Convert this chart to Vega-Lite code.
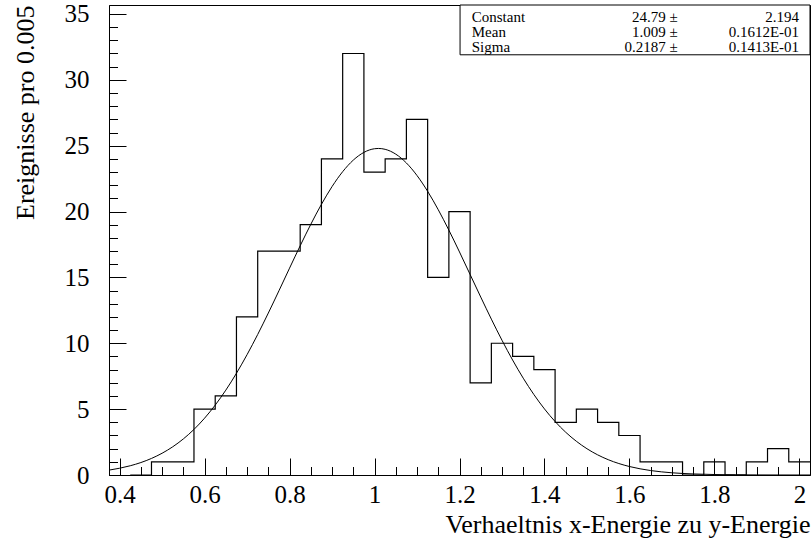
{
  "$schema": "https://vega.github.io/schema/vega-lite/v6.json",
  "width": 701,
  "height": 470,
  "autosize": {"type": "none"},
  "padding": {"left": 109, "top": 5, "right": 2, "bottom": 72},
  "background": "white",
  "config": {
    "view": {"stroke": "black", "strokeWidth": 1},
    "font": "Liberation Serif",
    "axis": {
      "domainColor": "black",
      "tickColor": "black",
      "labelColor": "black",
      "titleColor": "black",
      "labelFont": "Liberation Serif",
      "titleFont": "Liberation Serif",
      "titleFontWeight": "normal",
      "grid": false
    }
  },
  "datasets": {
    "hist": [
      {"bin_start": 0.375, "bin_end": 0.425, "count": 0},
      {"bin_start": 0.425, "bin_end": 0.475, "count": 0},
      {"bin_start": 0.475, "bin_end": 0.525, "count": 1},
      {"bin_start": 0.525, "bin_end": 0.575, "count": 1},
      {"bin_start": 0.575, "bin_end": 0.625, "count": 5},
      {"bin_start": 0.625, "bin_end": 0.675, "count": 6},
      {"bin_start": 0.675, "bin_end": 0.725, "count": 12},
      {"bin_start": 0.725, "bin_end": 0.775, "count": 17},
      {"bin_start": 0.775, "bin_end": 0.825, "count": 17},
      {"bin_start": 0.825, "bin_end": 0.875, "count": 19},
      {"bin_start": 0.875, "bin_end": 0.925, "count": 24},
      {"bin_start": 0.925, "bin_end": 0.975, "count": 32},
      {"bin_start": 0.975, "bin_end": 1.025, "count": 23},
      {"bin_start": 1.025, "bin_end": 1.075, "count": 24},
      {"bin_start": 1.075, "bin_end": 1.125, "count": 27},
      {"bin_start": 1.125, "bin_end": 1.175, "count": 15},
      {"bin_start": 1.175, "bin_end": 1.225, "count": 20},
      {"bin_start": 1.225, "bin_end": 1.275, "count": 7},
      {"bin_start": 1.275, "bin_end": 1.325, "count": 10},
      {"bin_start": 1.325, "bin_end": 1.375, "count": 9},
      {"bin_start": 1.375, "bin_end": 1.425, "count": 8},
      {"bin_start": 1.425, "bin_end": 1.475, "count": 4},
      {"bin_start": 1.475, "bin_end": 1.525, "count": 5},
      {"bin_start": 1.525, "bin_end": 1.575, "count": 4},
      {"bin_start": 1.575, "bin_end": 1.625, "count": 3},
      {"bin_start": 1.625, "bin_end": 1.675, "count": 1},
      {"bin_start": 1.675, "bin_end": 1.725, "count": 1},
      {"bin_start": 1.725, "bin_end": 1.775, "count": 0},
      {"bin_start": 1.775, "bin_end": 1.825, "count": 1},
      {"bin_start": 1.825, "bin_end": 1.875, "count": 0},
      {"bin_start": 1.875, "bin_end": 1.925, "count": 1},
      {"bin_start": 1.925, "bin_end": 1.975, "count": 2},
      {"bin_start": 1.975, "bin_end": 2.025, "count": 1}
    ],
    "gauss": [
      {"x": 0.375, "y": 0.371}, {"x": 0.4, "y": 0.514}, {"x": 0.425, "y": 0.702},
      {"x": 0.45, "y": 0.945}, {"x": 0.475, "y": 1.258}, {"x": 0.5, "y": 1.652},
      {"x": 0.525, "y": 2.141}, {"x": 0.55, "y": 2.74}, {"x": 0.575, "y": 3.46},
      {"x": 0.6, "y": 4.314}, {"x": 0.625, "y": 5.306}, {"x": 0.65, "y": 6.444},
      {"x": 0.675, "y": 7.724}, {"x": 0.7, "y": 9.137}, {"x": 0.725, "y": 10.668},
      {"x": 0.75, "y": 12.295}, {"x": 0.775, "y": 13.985}, {"x": 0.8, "y": 15.703},
      {"x": 0.825, "y": 17.4}, {"x": 0.85, "y": 19.032}, {"x": 0.875, "y": 20.547},
      {"x": 0.9, "y": 21.895}, {"x": 0.925, "y": 23.027}, {"x": 0.95, "y": 23.904},
      {"x": 0.975, "y": 24.492}, {"x": 1.0, "y": 24.769}, {"x": 1.009, "y": 24.79},
      {"x": 1.025, "y": 24.724}, {"x": 1.05, "y": 24.358}, {"x": 1.075, "y": 23.687},
      {"x": 1.1, "y": 22.734}, {"x": 1.125, "y": 21.537}, {"x": 1.15, "y": 20.137},
      {"x": 1.175, "y": 18.586}, {"x": 1.2, "y": 16.93}, {"x": 1.225, "y": 15.222},
      {"x": 1.25, "y": 13.508}, {"x": 1.275, "y": 11.831}, {"x": 1.3, "y": 10.229},
      {"x": 1.325, "y": 8.728}, {"x": 1.35, "y": 7.351}, {"x": 1.375, "y": 6.112},
      {"x": 1.4, "y": 5.014}, {"x": 1.425, "y": 4.061}, {"x": 1.45, "y": 3.246},
      {"x": 1.475, "y": 2.561}, {"x": 1.5, "y": 1.994}, {"x": 1.525, "y": 1.533},
      {"x": 1.55, "y": 1.163}, {"x": 1.575, "y": 0.871}, {"x": 1.6, "y": 0.644},
      {"x": 1.625, "y": 0.47}, {"x": 1.65, "y": 0.338}, {"x": 1.675, "y": 0.24},
      {"x": 1.7, "y": 0.168}, {"x": 1.75, "y": 0.08}, {"x": 1.8, "y": 0.036},
      {"x": 1.85, "y": 0.015}, {"x": 1.9, "y": 0.006}, {"x": 1.95, "y": 0.002},
      {"x": 2.0, "y": 0.001}, {"x": 2.025, "y": 0.0005}
    ],
    "stats": [
      {"param": "Constant", "value": "24.79 ±", "error": "2.194"},
      {"param": "Mean", "value": "1.009 ±", "error": "0.1612E-01"},
      {"param": "Sigma", "value": "0.2187 ±", "error": "0.1413E-01"}
    ]
  },
  "layer": [
    {
      "data": {"name": "hist"},
      "mark": {"type": "line", "interpolate": "step-before", "color": "black", "strokeWidth": 1.2, "clip": true},
      "encoding": {
        "x": {
          "field": "bin_end", "type": "quantitative",
          "scale": {"domain": [0.375, 2.025], "nice": false, "zero": false},
          "axis": {
            "orient": "bottom",
            "values": [0.4, 0.6, 0.8, 1.0, 1.2, 1.4, 1.6, 1.8, 2.0],
            "format": "~g",
            "tickSize": -17,
            "labelFontSize": 25,
            "labelPadding": 24,
            "labelFlush": false,
            "labelOverlap": false,
            "labelBound": false,
            "title": "Verhaeltnis x-Energie zu y-Energie",
            "titleFontSize": 26,
            "titleAnchor": "end",
            "titlePadding": 4
          }
        },
        "y": {
          "field": "count", "type": "quantitative",
          "scale": {"domain": [0, 35.68], "nice": false, "zero": true},
          "axis": {
            "orient": "left",
            "values": [0, 5, 10, 15, 20, 25, 30, 35],
            "format": "d",
            "tickSize": -17,
            "labelFontSize": 25,
            "labelPadding": 37,
            "labelOverlap": false,
            "labelBound": false,
            "title": "Ereignisse pro 0.005",
            "titleFontSize": 26,
            "titleAnchor": "end",
            "titlePadding": 26
          }
        }
      }
    },
    {
      "data": {"name": "gauss"},
      "mark": {"type": "line", "interpolate": "monotone", "color": "black", "strokeWidth": 1, "clip": true},
      "encoding": {
        "x": {
          "field": "x", "type": "quantitative",
          "scale": {"domain": [0.375, 2.025], "nice": false, "zero": false},
          "axis": {
            "orient": "bottom",
            "values": [0.4, 0.45, 0.5, 0.55, 0.6, 0.65, 0.7, 0.75, 0.8, 0.85, 0.9, 0.95, 1.0, 1.05, 1.1, 1.15, 1.2, 1.25, 1.3, 1.35, 1.4, 1.45, 1.5, 1.55, 1.6, 1.65, 1.7, 1.75, 1.8, 1.85, 1.9, 1.95, 2.0],
            "tickSize": -8.5,
            "labels": false,
            "domain": false,
            "title": null
          }
        },
        "y": {
          "field": "y", "type": "quantitative",
          "scale": {"domain": [0, 35.68], "nice": false, "zero": true},
          "axis": {
            "orient": "left",
            "values": [0, 1, 2, 3, 4, 5, 6, 7, 8, 9, 10, 11, 12, 13, 14, 15, 16, 17, 18, 19, 20, 21, 22, 23, 24, 25, 26, 27, 28, 29, 30, 31, 32, 33, 34, 35],
            "tickSize": -8.5,
            "labels": false,
            "domain": false,
            "title": null
          }
        }
      }
    },
    {
      "data": {"name": "stats"},
      "transform": [{"filter": "datum.param === 'Constant'"}],
      "mark": {"type": "rect", "fill": "white", "stroke": "black", "strokeWidth": 1},
      "encoding": {
        "x": {"datum": 1.2013, "scale": {"domain": [0.375, 2.025], "nice": false, "zero": false}, "axis": null},
        "x2": {"datum": 2.025},
        "y": {"datum": 35.68, "scale": {"domain": [0, 35.68], "nice": false, "zero": true}, "axis": null},
        "y2": {"datum": 31.9}
      }
    },
    {
      "data": {"name": "stats"},
      "transform": [{"filter": "datum.param === 'Constant'"}],
      "encoding": {
        "y": {"datum": 34.77, "scale": {"domain": [0, 35.68], "nice": false, "zero": true}, "axis": null}
      },
      "layer": [
        {"mark": {"type": "text", "align": "left", "baseline": "middle", "fontSize": 15, "font": "Liberation Serif", "color": "black"},
         "encoding": {"x": {"datum": 1.2288, "scale": {"domain": [0.375, 2.025], "nice": false, "zero": false}, "axis": null}, "text": {"field": "param"}}},
        {"mark": {"type": "text", "align": "right", "baseline": "middle", "fontSize": 15, "font": "Liberation Serif", "color": "black"},
         "encoding": {"x": {"datum": 1.7138, "scale": {"domain": [0.375, 2.025], "nice": false, "zero": false}, "axis": null}, "text": {"field": "value"}}},
        {"mark": {"type": "text", "align": "right", "baseline": "middle", "fontSize": 15, "font": "Liberation Serif", "color": "black"},
         "encoding": {"x": {"datum": 1.9993, "scale": {"domain": [0.375, 2.025], "nice": false, "zero": false}, "axis": null}, "text": {"field": "error"}}}
      ]
    },
    {
      "data": {"name": "stats"},
      "transform": [{"filter": "datum.param === 'Mean'"}],
      "encoding": {
        "y": {"datum": 33.63, "scale": {"domain": [0, 35.68], "nice": false, "zero": true}, "axis": null}
      },
      "layer": [
        {"mark": {"type": "text", "align": "left", "baseline": "middle", "fontSize": 15, "font": "Liberation Serif", "color": "black"},
         "encoding": {"x": {"datum": 1.2288, "scale": {"domain": [0.375, 2.025], "nice": false, "zero": false}, "axis": null}, "text": {"field": "param"}}},
        {"mark": {"type": "text", "align": "right", "baseline": "middle", "fontSize": 15, "font": "Liberation Serif", "color": "black"},
         "encoding": {"x": {"datum": 1.7138, "scale": {"domain": [0.375, 2.025], "nice": false, "zero": false}, "axis": null}, "text": {"field": "value"}}},
        {"mark": {"type": "text", "align": "right", "baseline": "middle", "fontSize": 15, "font": "Liberation Serif", "color": "black"},
         "encoding": {"x": {"datum": 1.9993, "scale": {"domain": [0.375, 2.025], "nice": false, "zero": false}, "axis": null}, "text": {"field": "error"}}}
      ]
    },
    {
      "data": {"name": "stats"},
      "transform": [{"filter": "datum.param === 'Sigma'"}],
      "encoding": {
        "y": {"datum": 32.49, "scale": {"domain": [0, 35.68], "nice": false, "zero": true}, "axis": null}
      },
      "layer": [
        {"mark": {"type": "text", "align": "left", "baseline": "middle", "fontSize": 15, "font": "Liberation Serif", "color": "black"},
         "encoding": {"x": {"datum": 1.2288, "scale": {"domain": [0.375, 2.025], "nice": false, "zero": false}, "axis": null}, "text": {"field": "param"}}},
        {"mark": {"type": "text", "align": "right", "baseline": "middle", "fontSize": 15, "font": "Liberation Serif", "color": "black"},
         "encoding": {"x": {"datum": 1.7138, "scale": {"domain": [0.375, 2.025], "nice": false, "zero": false}, "axis": null}, "text": {"field": "value"}}},
        {"mark": {"type": "text", "align": "right", "baseline": "middle", "fontSize": 15, "font": "Liberation Serif", "color": "black"},
         "encoding": {"x": {"datum": 1.9993, "scale": {"domain": [0.375, 2.025], "nice": false, "zero": false}, "axis": null}, "text": {"field": "error"}}}
      ]
    }
  ],
  "resolve": {"axis": {"x": "independent", "y": "independent"}}
}
